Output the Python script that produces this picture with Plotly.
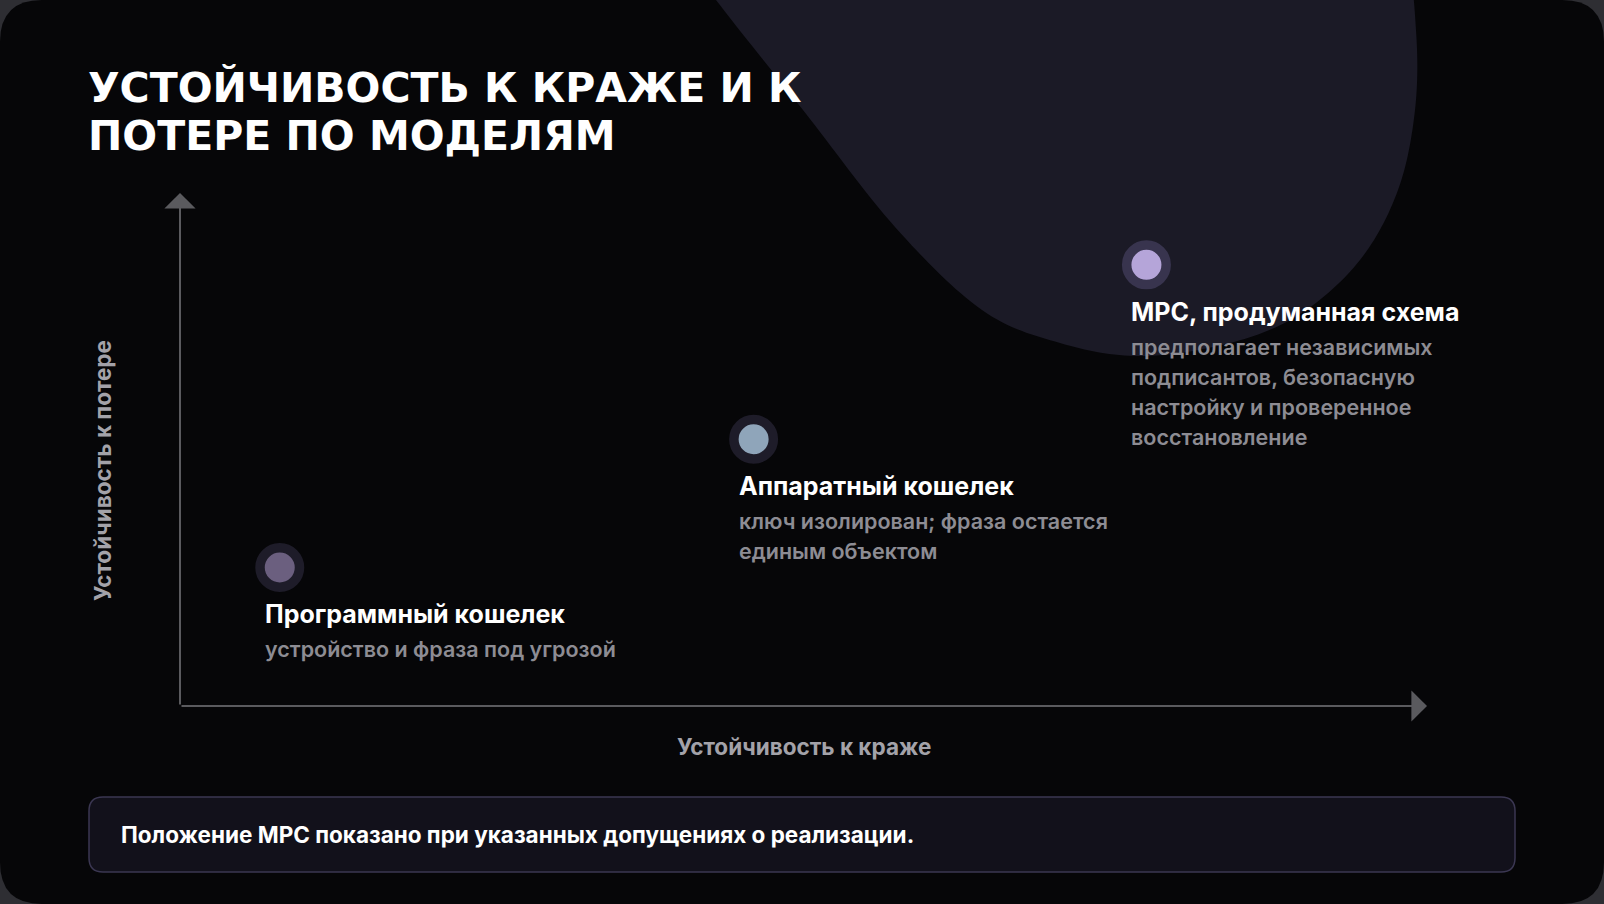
import numpy as np
import plotly.graph_objects as go

W, H = 1604, 904

# --- data ---
models = ["Программный кошелек", "Аппаратный кошелек", "MPC, продуманная схема"]
theft_resistance = [0.8, 4.6, 7.75]
loss_resistance = [2.7, 5.2, 8.6]
descriptions = [
    ["устройство и фраза под угрозой"],
    ["ключ изолирован; фраза остается", "единым объектом"],
    ["предполагает независимых", "подписантов, безопасную",
     "настройку и проверенное", "восстановление"],
]
dot_colors = ["#6b5f7f", "#8fa5ba", "#b5a5d9"]
ring_colors = ["#1e1c29", "#1e1c29", "#38344e"]

title_lines = ["УСТОЙЧИВОСТЬ К КРАЖЕ И К", "ПОТЕРЕ ПО МОДЕЛЯМ"]
x_title = "Устойчивость к краже"
y_title = "Устойчивость к потере"
note = "Положение MPC показано при указанных допущениях о реализации."

BG = "#060608"
FONT = "Inter"


def px(x, y):
    return x / W, 1 - y / H


def rounded_rect(x0, y0, x1, y1, r):
    def p(x, y):
        fx, fy = px(x, y)
        return f"{fx:.5f},{fy:.5f}"
    pts = [
        "M" + p(x0 + r, y0), "L" + p(x1 - r, y0),
        "Q" + p(x1, y0) + " " + p(x1, y0 + r), "L" + p(x1, y1 - r),
        "Q" + p(x1, y1) + " " + p(x1 - r, y1), "L" + p(x0 + r, y1),
        "Q" + p(x0, y1) + " " + p(x0, y1 - r), "L" + p(x0, y0 + r),
        "Q" + p(x0, y0) + " " + p(x0 + r, y0),
    ]
    return " ".join(pts) + " Z"


def smooth_blob(anchors, n=16):
    # closed catmull-rom through the outline of the background blob
    a = np.array(anchors, dtype=float)
    out = []
    m = len(a)
    for i in range(m):
        p0, p1, p2, p3 = a[i - 1], a[i], a[(i + 1) % m], a[(i + 2) % m]
        for t in np.linspace(0, 1, n, endpoint=False):
            t2, t3 = t * t, t * t * t
            pt = 0.5 * ((2 * p1) + (-p0 + p2) * t + (2 * p0 - 5 * p1 + 4 * p2 - p3) * t2
                        + (-p0 + 3 * p1 - 3 * p2 + p3) * t3)
            out.append(pt)
    s = []
    for k, (x, y) in enumerate(out):
        fx, fy = px(x, y)
        s.append(("M" if k == 0 else "L") + f"{fx:.5f},{fy:.5f}")
    return " ".join(s) + " Z"


blob_outline = [(650, -90), (716, 0), (803, 110), (895, 227), (982, 310), (1060, 343),
                (1140, 356), (1230, 343), (1300, 314), (1360, 260), (1398, 190),
                (1415, 110), (1416, 30), (1404, -50), (1360, -140), (1100, -220),
                (800, -200)]

fig = go.Figure()

fig.add_trace(go.Scatter(
    x=theft_resistance, y=loss_resistance, mode="markers",
    marker=dict(size=39.5, color=dot_colors,
                line=dict(width=9.5, color=ring_colors)),
    hoverinfo="text", text=models, showlegend=False,
))

shapes = [
    dict(type="path", xref="paper", yref="paper", layer="below",
         path=rounded_rect(0, 0, W, H, 42), fillcolor=BG, line_width=0),
    dict(type="path", xref="paper", yref="paper", layer="below",
         path=smooth_blob(blob_outline), fillcolor="#1b1a26", line_width=0),
    dict(type="path", xref="paper", yref="paper", layer="below",
         path=rounded_rect(89, 797, 1515, 872, 14), fillcolor="#12111b",
         line=dict(color="#3b3752", width=1.5)),
]

annotations = []
# title
for i, line in enumerate(title_lines):
    annotations.append(dict(
        text=line, xref="paper", yref="paper", x=86 / W, y=1 - (88 + 48 * i) / H,
        xanchor="left", yanchor="middle", showarrow=False,
        font=dict(family="DejaVu Sans", size=41, color="#ffffff", weight="bold")))

# axis arrows
arrow = dict(showarrow=True, arrowhead=1, arrowsize=2.6, arrowwidth=2,
             arrowcolor="#5a5a5e", axref="x", ayref="y", text="")
annotations.append(dict(arrow, x=10, y=0, ax=0, ay=0))
annotations.append(dict(arrow, x=0, y=10, ax=0, ay=0))

annotations.append(dict(
    text=x_title, xref="paper", yref="paper", x=804 / W, y=1 - 746 / H,
    xanchor="center", yanchor="middle", showarrow=False,
    font=dict(family=FONT, size=22.5, color="#a3a2a9", weight=700)))
annotations.append(dict(
    text=y_title, xref="paper", yref="paper", x=102 / W, y=1 - 470 / H,
    xanchor="center", yanchor="middle", showarrow=False, textangle=-90,
    font=dict(family=FONT, size=22.5, color="#a3a2a9", weight=700)))

# point labels
for name, tx, ly, desc in zip(models, theft_resistance, loss_resistance, descriptions):
    annotations.append(dict(
        text=name, x=tx, y=ly, xref="x", yref="y", xanchor="left", yanchor="middle",
        xshift=-17, yshift=-47, showarrow=False,
        font=dict(family=FONT, size=25, color="#ffffff", weight=700)))
    for j, d in enumerate(desc):
        annotations.append(dict(
            text=d, x=tx, y=ly, xref="x", yref="y", xanchor="left", yanchor="middle",
            xshift=-17, yshift=-82 - 30 * j, showarrow=False,
            font=dict(family=FONT, size=21.5, color="#8d8c93", weight=600)))

annotations.append(dict(
    text=note, xref="paper", yref="paper", x=119 / W, y=1 - 834 / H,
    xanchor="left", yanchor="middle", showarrow=False,
    font=dict(family=FONT, size=22.5, color="#ffffff", weight=700)))

fig.update_layout(
    width=W, height=H,
    margin=dict(l=0, r=0, t=0, b=0),
    paper_bgcolor="#2e2e33",
    plot_bgcolor="rgba(0,0,0,0)",
    xaxis=dict(domain=[180 / W, 1427 / W], range=[0, 10], visible=False, fixedrange=True),
    yaxis=dict(domain=[1 - 706 / H, 1 - 193 / H], range=[0, 10], visible=False, fixedrange=True),
    shapes=shapes,
    annotations=annotations,
    showlegend=False,
)

fig.write_html("out.html", config={"displayModeBar": False},
               post_script="document.body.style.margin='0';"
                           "document.body.style.background='#2e2e33';")
